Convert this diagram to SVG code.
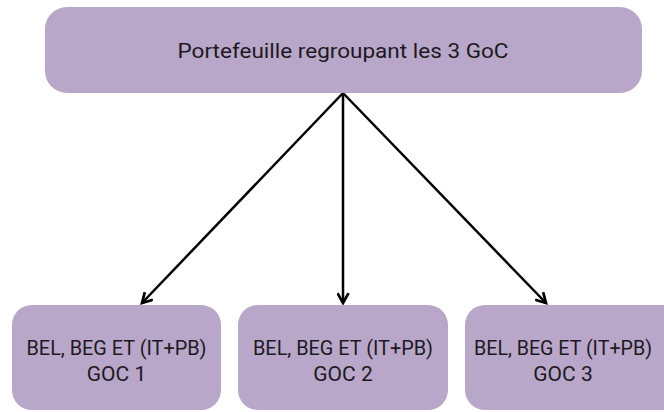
<svg xmlns="http://www.w3.org/2000/svg" width="664" height="412" viewBox="0 0 664 412">
  <defs>
    <style>
      .box { fill: #b8a7c9; }
      .label { font-family: Roboto, "Liberation Sans", sans-serif; font-size: 21px; fill: #1c1a1f; text-anchor: middle; }
      .small { font-size: 20px; }
      .edge { stroke: #000; stroke-width: 2.5; fill: none; marker-end: url(#chevron); }
    </style>
    <marker id="chevron" viewBox="0 0 12 12" refX="10" refY="6" markerWidth="13" markerHeight="13" markerUnits="userSpaceOnUse" orient="auto">
      <polyline points="2,1.5 10,6 2,10.5" fill="none" stroke="#000" stroke-width="2.5" stroke-linecap="square"/>
    </marker>
  </defs>
  <rect width="664" height="412" fill="#ffffff"/>

  <!-- three arrows fanning out from the portfolio box -->
  <g id="connectors">
    <line class="edge" x1="343" y1="93" x2="142" y2="303"/>
    <line class="edge" x1="343" y1="93" x2="343" y2="303"/>
    <line class="edge" x1="343" y1="93" x2="546" y2="303"/>
  </g>

  <g id="portefeuille">
    <rect class="box" x="45" y="7" width="597" height="86" rx="22"/>
    <text class="label" x="343" y="58" textLength="331" lengthAdjust="spacingAndGlyphs">Portefeuille regroupant les 3 GoC</text>
  </g>

  <g id="goc1">
    <rect class="box" x="12" y="305" width="209" height="105" rx="20"/>
    <text class="label small" x="116.5" y="355" textLength="180" lengthAdjust="spacingAndGlyphs">BEL, BEG ET (IT+PB)</text>
    <text class="label" x="116.5" y="381">GOC 1</text>
  </g>

  <g id="goc2">
    <rect class="box" x="238" y="305" width="210" height="105" rx="20"/>
    <text class="label small" x="343" y="355" textLength="180" lengthAdjust="spacingAndGlyphs">BEL, BEG ET (IT+PB)</text>
    <text class="label" x="343" y="381">GOC 2</text>
  </g>

  <!-- last box runs to the right border of the canvas -->
  <g id="goc3">
    <path class="box" d="M485,305 H664 V410 H485 A20,20 0 0 1 465,390 V325 A20,20 0 0 1 485,305 Z"/>
    <text class="label small" x="563" y="355" textLength="178" lengthAdjust="spacingAndGlyphs">BEL, BEG ET (IT+PB)</text>
    <text class="label" x="563" y="381">GOC 3</text>
  </g>
</svg>
